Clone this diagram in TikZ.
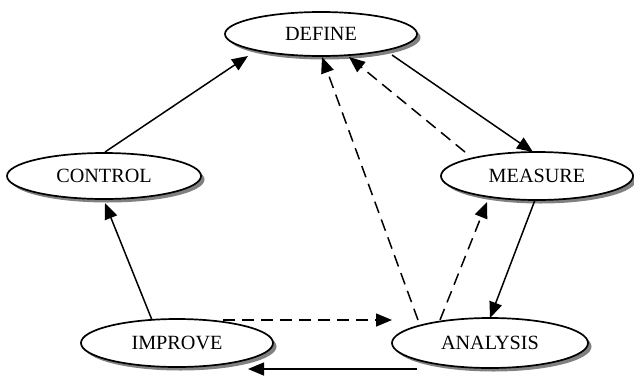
\documentclass[tikz,border=0pt]{standalone}
\usepackage{fontspec}
\setmainfont{Liberation Serif}
\usetikzlibrary{shapes.geometric,arrows.meta,calc,shadows}
\begin{document}
\begin{tikzpicture}[x=1pt,y=-1pt,
  phase/.style={ellipse,draw=black,line width=1.7pt,fill=white,inner sep=0pt,
    font=\fontsize{20.2}{23}\selectfont,
    drop shadow={shadow xshift=3.5pt,shadow yshift=-3.5pt,fill=black!50,opacity=1}},
  flow/.style={line width=1.5pt,-{Triangle[length=16pt,width=13pt]}},
  back/.style={flow,dash pattern=on 12pt off 7pt}]
\useasboundingbox (0,0) rectangle (634,378);
\node[phase,minimum width=192pt,minimum height=44pt] (define) at (321,34) {DEFINE};
\node[phase,minimum width=194pt,minimum height=46pt] (control) at (104,176) {CONTROL};
\node[phase,minimum width=192pt,minimum height=48pt] (measure) at (537,176) {MEASURE};
\node[phase,minimum width=192pt,minimum height=48pt] (improve) at (177,343) {IMPROVE};
\node[phase,minimum width=196pt,minimum height=50pt] (analysis) at (490,343) {ANALYSIS};
% solid connectors
\draw[flow] ($(control)+(1,-24)$) -- ($(define)+(-73,22)$);
\draw[flow] ($(define)+(71,21)$) -- ($(measure)+(-4,-24)$);
\draw[flow] ($(measure)+(-2,24)$) -- ($(analysis)+(0,-25)$);
\draw[flow] ($(analysis)+(-73,26)$) -- ($(improve)+(71,26)$);
\draw[flow] ($(improve)+(-25,-23)$) -- ($(control)+(1,27)$);
% dashed connectors
\draw[back] ($(measure)+(-72,-24)$) -- ($(define)+(28,23)$);
\draw[back] ($(analysis)+(-72,-23)$) -- ($(define)+(1,23)$);
\draw[back] ($(analysis)+(-50,-23)$) -- ($(measure)+(-50,26)$);
\draw[back] ($(improve)+(46,-23)$) -- ($(analysis)+(-98,-23)$);
\end{tikzpicture}
\end{document}
